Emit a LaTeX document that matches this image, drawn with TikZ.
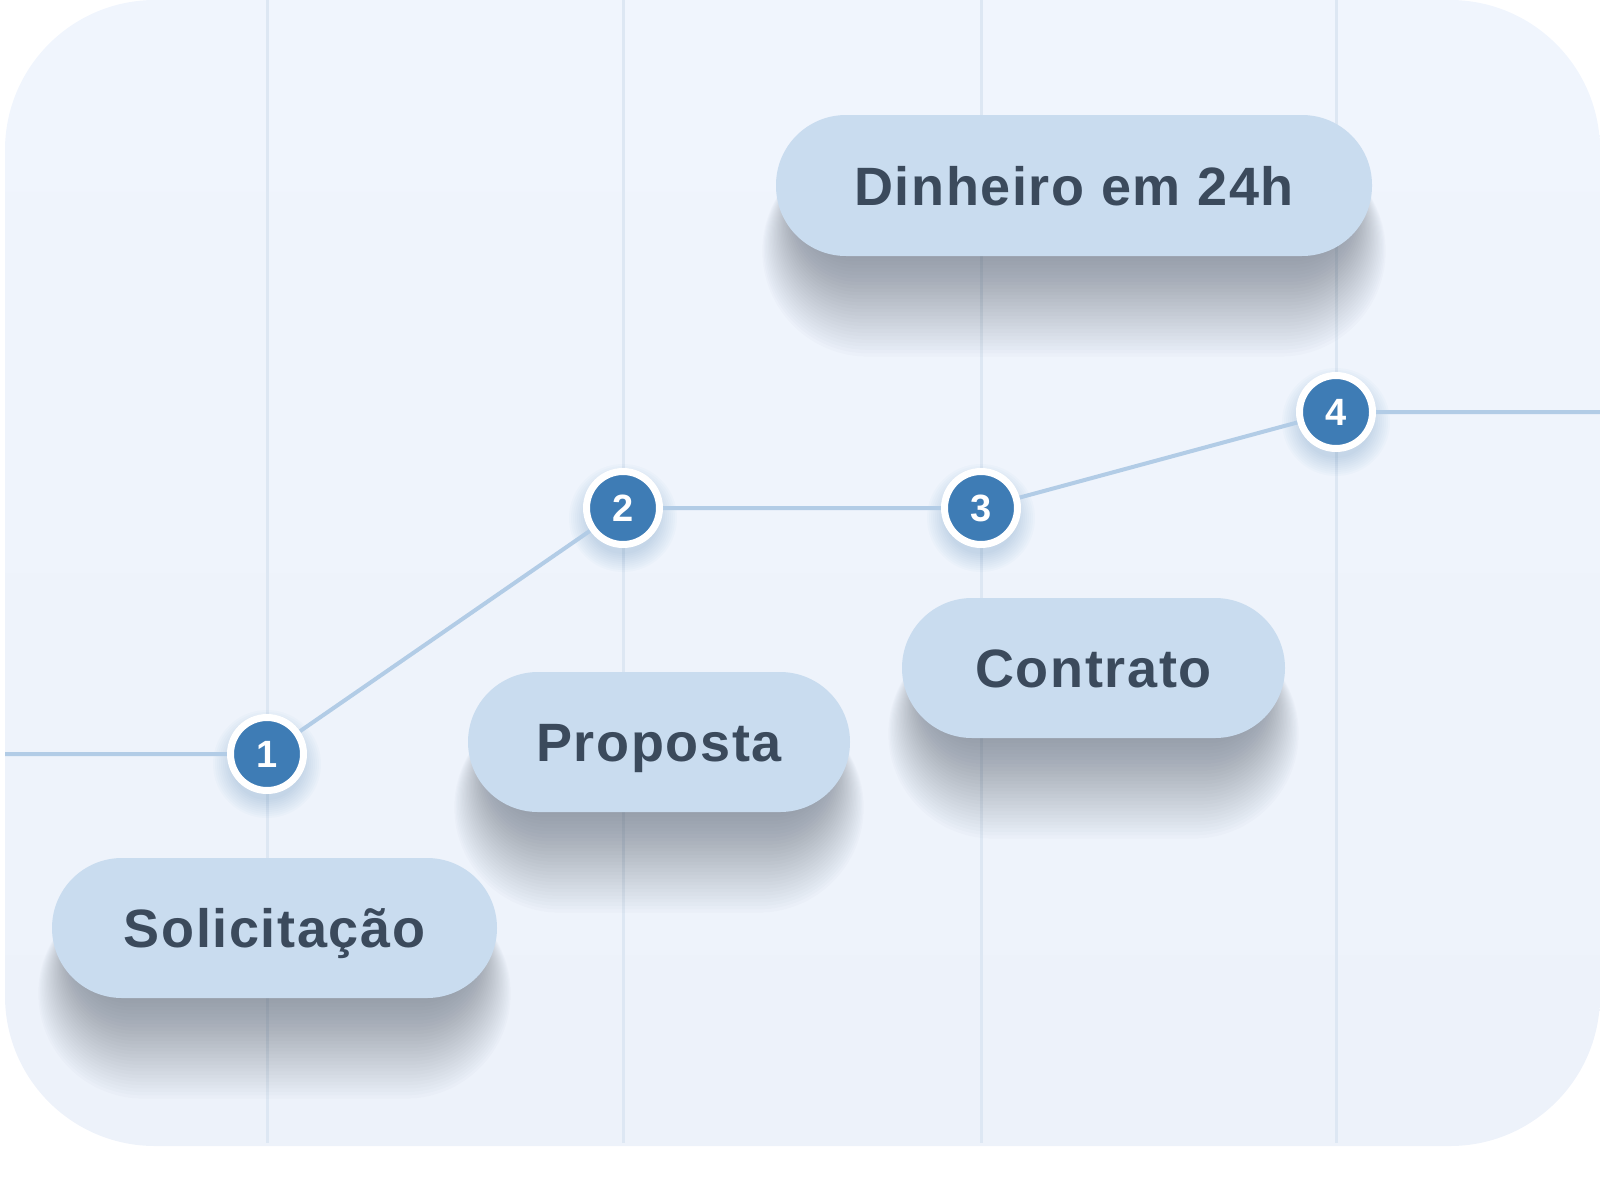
\documentclass[tikz,border=0pt]{standalone}
\usepackage{fontspec}
\newfontfamily\pillfont{Liberation Sans Bold}[LetterSpace=3]
\newfontfamily\numfont{Liberation Sans Bold}
\definecolor{bgtop}{HTML}{F0F5FD}
\definecolor{bgbot}{HTML}{EDF2FA}
\definecolor{gridcol}{HTML}{DDE7F3}
\definecolor{conncol}{HTML}{B2CCE6}
\definecolor{pillcol}{HTML}{C9DCEF}
\definecolor{textcol}{HTML}{3B4A5C}
\definecolor{dotcol}{HTML}{3E7CB5}
\definecolor{shadowcol}{HTML}{263040}
\pgfdeclarelayer{back}
\pgfdeclarelayer{mid}
\pgfsetlayers{back,mid,main}
\newcommand\pshadow[4]{%
  \foreach \s in {0,...,29}{%
    \pgfmathsetmacro\hx{#3/2-24+1.3*\s}%
    \pgfmathsetmacro\sTop{#2-#4/2+36-0.2*\s}%
    \pgfmathsetmacro\sBot{#2+#4/2+2+3.4*\s}%
    \pgfmathsetmacro\rr{min(\hx,(\sBot-\sTop)/2)-0.01}%
    \fill[shadowcol,opacity=0.014,rounded corners=\rr pt]
      ({#1-\hx},\sTop) rectangle ({#1+\hx},\sBot);
  }}
\newcommand\dglow[2]{%
  \foreach \e in {0,2,...,18}{%
    \fill[dotcol,opacity=0.025] (#1,#2+10) circle ({36+\e});
  }}
\tikzset{
  pill/.style={fill=pillcol,rounded corners=70pt,minimum height=140pt,
    inner sep=0pt,text=textcol,font=\pillfont\fontsize{54pt}{60pt}\selectfont,
    text height=39pt,text depth=0pt},
  dot/.style={circle,fill=dotcol,draw=white,line width=7pt,minimum size=73pt,
    inner sep=0pt,text=white,font=\numfont\fontsize{38pt}{40pt}\selectfont,
    text height=27pt,text depth=0pt},
  conn/.style={draw=conncol,line width=4pt,line join=round},
  gridline/.style={draw=gridcol,line width=3pt}
}
\begin{document}
\begin{tikzpicture}[x=1pt,y=-1pt]
\useasboundingbox (0,0) rectangle (1600,1181);
\begin{pgfonlayer}{back}
  \shade[top color=bgtop,bottom color=bgbot,rounded corners=150pt]
    (5,0) rectangle (1600,1146);
  \foreach \gx in {267,623,981,1336}{
    \draw[gridline] (\gx,0) -- (\gx,1143);
  }
  \pshadow{274.5}{928}{445}{140}
  \pshadow{659}{742}{382}{140}
  \pshadow{1093.5}{668}{383}{140}
  \pshadow{1074}{185.5}{596}{141}
  \dglow{267}{754}
  \dglow{623}{508}
  \dglow{981}{508}
  \dglow{1336}{412}
\end{pgfonlayer}

\node[pill,minimum width=445pt] (p1) at (274.5,928) {Solicitação};
\node[pill,minimum width=382pt] (p2) at (659,742) {Proposta};
\node[pill,minimum width=383pt] (p3) at (1093.5,668) {Contrato};
\node[pill,minimum width=596pt,minimum height=141pt] (p4) at (1074,185.5) {Dinheiro em 24h};

\node[dot] (c1) at (267,754) {1};
\node[dot] (c2) at (623,508) {2};
\node[dot] (c3) at (981,508) {3};
\node[dot] (c4) at (1336,412) {4};
\coordinate (e0) at (5,754);
\coordinate (e5) at (1600,412);

\begin{pgfonlayer}{mid}
  \draw[conn] (e0) -- (c1.center) -- (c2.center) -- (c3.center) -- (c4.center) -- (e5);
\end{pgfonlayer}
\end{tikzpicture}
\end{document}
